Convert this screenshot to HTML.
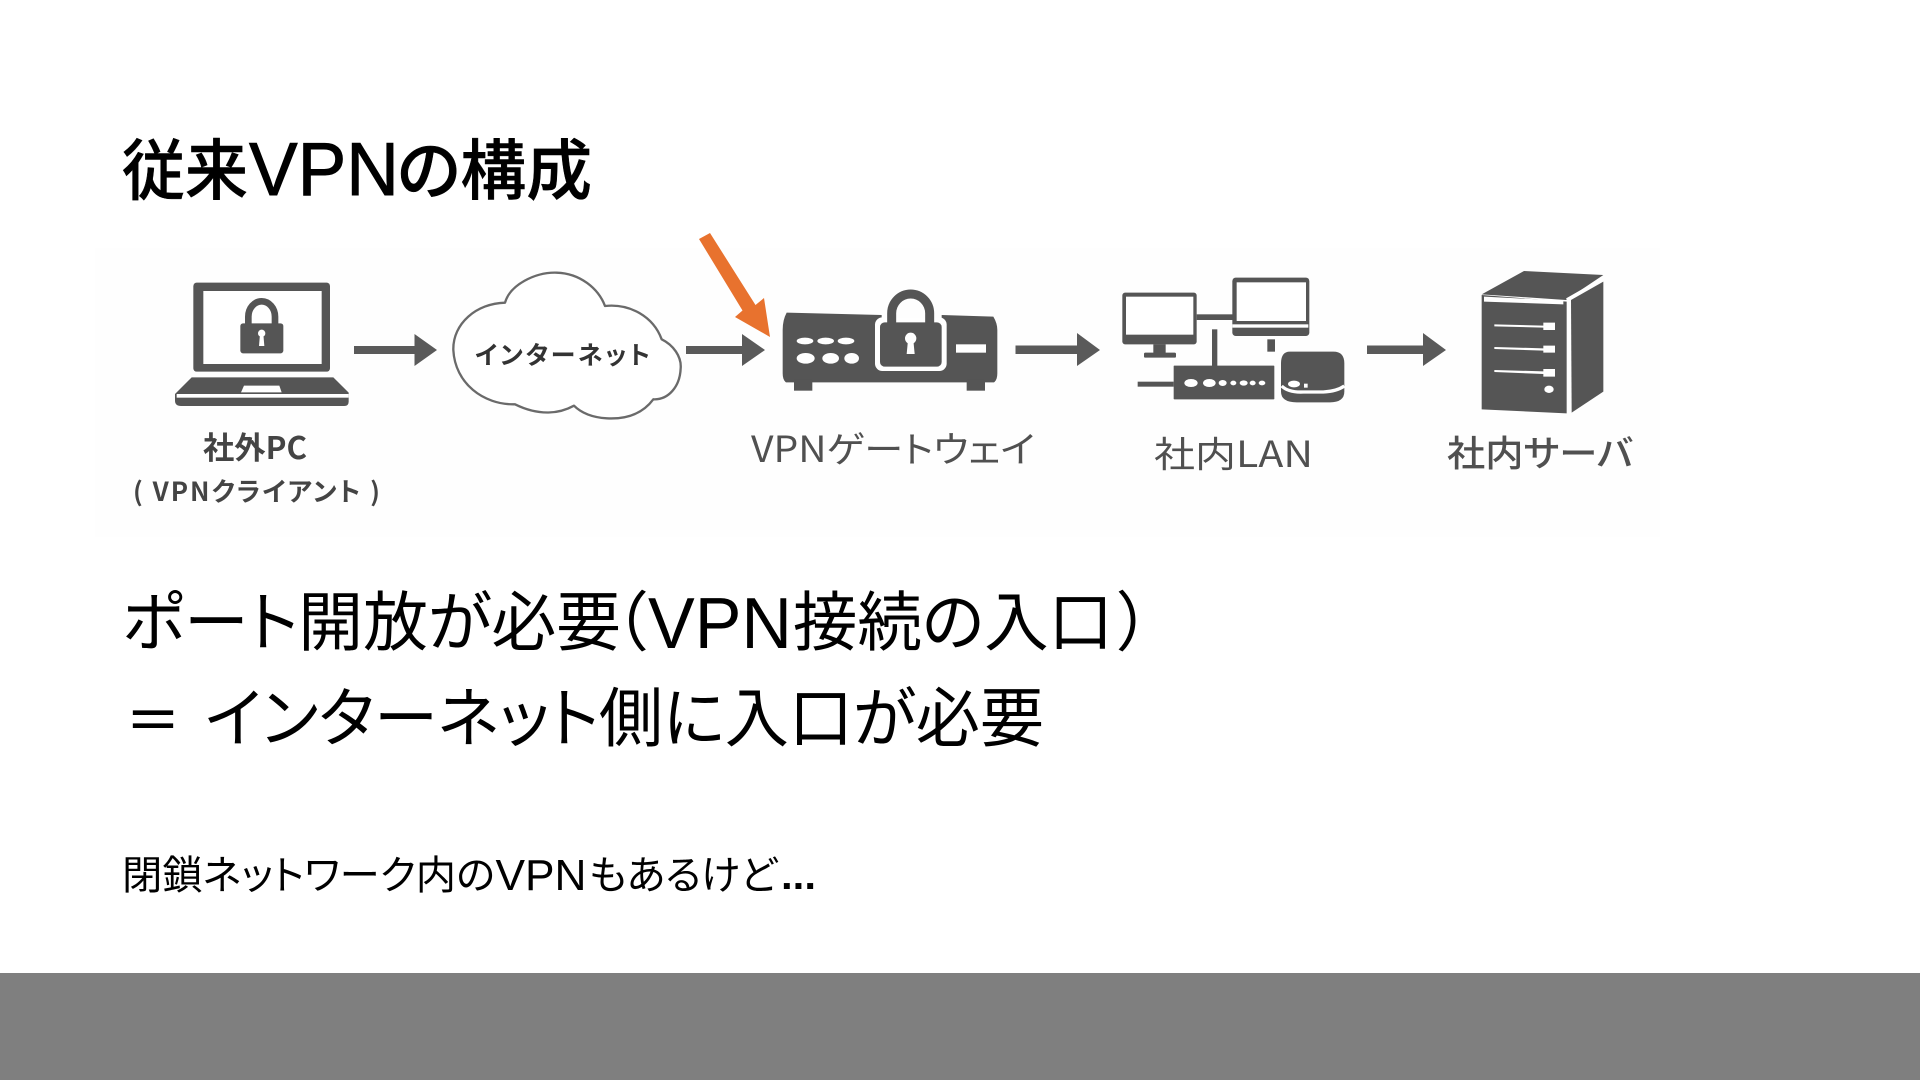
<!DOCTYPE html>
<html lang="ja"><head><meta charset="utf-8"><title>従来VPNの構成</title>
<style>
html,body{margin:0;padding:0;background:#fff;width:1920px;height:1080px;overflow:hidden}
svg{display:block}
text{font-family:"Liberation Sans","Noto Sans CJK JP",sans-serif}
.lib{font-family:"Liberation Sans","Noto Sans CJK JP",sans-serif;font-feature-settings:"palt"}
.jp{font-family:"Noto Sans CJK JP","Liberation Sans",sans-serif;font-feature-settings:"palt"}
</style></head><body>
<svg width="1920" height="1080" viewBox="0 0 1920 1080" xmlns="http://www.w3.org/2000/svg">
<rect width="1920" height="1080" fill="#fff"/>
<rect x="95" y="248" width="1565" height="289" fill="#fefefe"/>
<rect x="0" y="973" width="1920" height="107" fill="#7f7f7f"/>

<!-- slide text -->
<text class="lib" x="122" y="194" font-size="66" font-weight="500" fill="#000" stroke="#000" stroke-width=".5" textLength="126" lengthAdjust="spacingAndGlyphs">従来</text>
<text class="lib" x="249" y="195" font-size="75" font-weight="400" fill="#000" stroke="#000" stroke-width=".9" textLength="150" lengthAdjust="spacingAndGlyphs">VPN</text>
<text class="lib" x="397" y="194" font-size="66" font-weight="500" fill="#000" stroke="#000" stroke-width=".5" textLength="195" lengthAdjust="spacingAndGlyphs">の構成</text>

<text class="lib" x="122" y="645" font-size="65" font-weight="400" fill="#000" textLength="499" lengthAdjust="spacingAndGlyphs">ポート開放が必要</text>
<text class="lib" x="614" y="645" font-size="65" font-weight="400" fill="#000">（</text>
<text class="lib" x="648" y="648" font-size="72" font-weight="400" fill="#000" textLength="144" lengthAdjust="spacingAndGlyphs">VPN</text>
<text class="lib" x="793" y="645" font-size="65" font-weight="400" fill="#000" textLength="320" lengthAdjust="spacingAndGlyphs">接続の入口</text>
<text class="lib" x="1118" y="645" font-size="65" font-weight="400" fill="#000">）</text>

<text class="lib" x="125" y="741" font-size="56" font-weight="500" fill="#000">＝</text>
<text class="lib" x="205" y="741" font-size="65" font-weight="400" fill="#000" textLength="839" lengthAdjust="spacingAndGlyphs">インターネット側に入口が必要</text>

<text class="lib" x="122" y="889" font-size="40" font-weight="400" fill="#000" textLength="373" lengthAdjust="spacingAndGlyphs">閉鎖ネットワーク内の</text>
<text class="lib" x="495.5" y="890" font-size="44" font-weight="400" fill="#000" textLength="91" lengthAdjust="spacingAndGlyphs">VPN</text>
<text class="lib" x="589" y="889" font-size="40" font-weight="400" fill="#000" textLength="188" lengthAdjust="spacingAndGlyphs">もあるけど</text>
<text x="781" y="889" font-size="40" font-weight="700" fill="#000" textLength="35" lengthAdjust="spacingAndGlyphs">...</text>

<!-- laptop -->
<g transform="translate(170,270) scale(.33333)">
<rect x="70" y="38" width="410" height="267" rx="10" fill="#555"/>
<rect x="100" y="63" width="355" height="219" fill="#fff"/>
<rect x="211" y="160" width="129" height="90" rx="8" fill="#555"/>
<path d="M235,165V140a40,46 0 0 1 80,0V165" fill="none" stroke="#555" stroke-width="20"/>
<circle cx="275" cy="190" r="11" fill="#fff"/>
<path d="M270,192H280L283,228H267Z" fill="#fff"/>
<path d="M65,322H490L536,368V395Q536,408 523,408H33Q15,408 15,392V372Z" fill="#555"/>
<rect x="20" y="372" width="516" height="11" fill="#fff"/>
<path d="M222,347H328L335,367H213Z" fill="#fff"/>
</g>

<!-- arrows -->
<g fill="#5a5a5a">
<path d="M354,346H414.5V334L437,350L414.5,366V354H354Z"/>
<path d="M686,346H742V334L765,350L742,366V354H686Z"/>
<path d="M1015.5,345.5H1077V333L1100,350L1077,366V354H1015.5Z"/>
<path d="M1367,345.5H1423V333L1446,350L1423,366V354H1367Z"/>
</g>

<!-- cloud -->
<g transform="translate(440,260) scale(.33333)">
<path d="M195,128C210,75 285,36 350,38C420,40 475,85 495,138C570,130 640,170 665,238C700,255 725,290 722,325C720,380 685,420 640,418C605,465 555,478 500,475C455,472 425,460 402,437C360,460 300,470 225,433C130,435 45,370 40,270C38,190 110,130 195,128Z" fill="#fff" stroke="#6a6a6a" stroke-width="7" stroke-linejoin="round"/>
</g>
<text class="jp" x="475" y="364" font-size="25" font-weight="700" fill="#333" textLength="175" lengthAdjust="spacing">インターネット</text>

<!-- orange arrow -->
<path d="M699,239L710,233L755.5,305L764,298L770,337L735,317L742.5,310.5Z" fill="#e8722e"/>

<!-- gateway -->
<g transform="translate(770,280) scale(.33333)">
<path d="M50,98L335,105V125H515V105L670,110Q682,130 682,150V280Q682,300 672,307H48Q38,300 38,280V150Q38,120 50,98Z" fill="#555"/>
<rect x="72" y="300" width="55" height="32" fill="#555"/>
<rect x="590" y="300" width="55" height="32" fill="#555"/>
<rect x="315" y="112" width="215" height="161" rx="22" fill="#fff"/>
<rect x="330" y="127" width="185" height="133" rx="14" fill="#555"/>
<path d="M365,130V100a57,58 0 0 1 114,0V130" fill="none" stroke="#555" stroke-width="27"/>
<circle cx="422" cy="175" r="17" fill="#fff"/>
<path d="M414,180H430L434,222H410Z" fill="#fff"/>
<g fill="#fff">
<ellipse cx="105" cy="183" rx="25" ry="10"/><ellipse cx="167" cy="183" rx="25" ry="10"/><ellipse cx="228" cy="183" rx="25" ry="10"/>
<ellipse cx="107" cy="235" rx="27" ry="16"/><ellipse cx="182" cy="235" rx="25" ry="16"/><ellipse cx="245" cy="235" rx="22" ry="16"/>
<rect x="558" y="193" width="90" height="25"/>
</g>
</g>

<!-- LAN -->
<g transform="translate(1100,260) scale(.33333)" fill="#555">
<rect x="67" y="98" width="223" height="155" rx="8"/>
<rect x="78" y="110" width="202" height="114" fill="#fff"/>
<rect x="160" y="253" width="37" height="28"/>
<rect x="132" y="278" width="96" height="15" rx="4"/>
<rect x="290" y="163" width="108" height="17"/>
<rect x="397" y="53" width="231" height="175" rx="10"/>
<rect x="410" y="67" width="208" height="116" fill="#fff"/>
<rect x="397" y="193" width="228" height="10" fill="#fff"/>
<rect x="502" y="238" width="23" height="37"/>
<rect x="336" y="208" width="16" height="110"/>
<rect x="221" y="317" width="302" height="101" rx="2"/>
<rect x="113" y="365" width="108" height="15"/>
<g fill="#fff">
<ellipse cx="273" cy="369" rx="20" ry="12"/><ellipse cx="328" cy="369" rx="19" ry="12"/><ellipse cx="368" cy="369" rx="12" ry="9"/><ellipse cx="400" cy="369" rx="9" ry="7"/><ellipse cx="431" cy="369" rx="12" ry="8"/><ellipse cx="458" cy="369" rx="9" ry="7"/><ellipse cx="486" cy="369" rx="10" ry="7"/>
</g>
<path d="M570,275H700Q733,275 733,310V395Q733,427 690,427H590Q543,427 543,395V310Q543,275 570,275Z"/>
<path d="M545,378Q565,398 610,396H670Q710,394 733,378" fill="none" stroke="#fff" stroke-width="10"/>
<ellipse cx="582" cy="372" rx="18" ry="10" fill="#fff"/>
<rect x="612" y="371" width="11" height="12" fill="#fff"/>
</g>

<!-- server -->
<g transform="translate(1460,260) scale(.33333)">
<path d="M65,103L192,33L430,45L318,120Z" fill="#555"/>
<path d="M65,105L320,125V460L65,448Z" fill="#555"/>
<path d="M333,120L430,65V395L335,458Z" fill="#555"/>
<path d="M320,118L425,58" stroke="#fff" stroke-width="7" fill="none"/>
<path d="M72,110L310,122V133L72,125Z" fill="#fff"/>
<g fill="#fff">
<path d="M103,193L250,197V188H285V210H250V203L103,199Z"/>
<path d="M103,261L250,265V257H285V278H250V272L103,267Z"/>
<path d="M103,330L250,334V327H285V350H250V342L103,336Z"/>
<ellipse cx="267" cy="388" rx="14" ry="11"/>
</g>
</g>

<!-- labels -->
<text class="jp" x="203" y="459" font-size="31" font-weight="700" fill="#444" textLength="104" lengthAdjust="spacingAndGlyphs">社外PC</text>
<text class="jp" x="133" y="501" font-size="26" font-weight="700" fill="#444" textLength="247" lengthAdjust="spacing">( VPNクライアント )</text>
<text class="jp" x="751" y="462" font-size="36" fill="#505050" textLength="284" lengthAdjust="spacingAndGlyphs">VPNゲートウェイ</text>
<text class="jp" x="1154" y="467" font-size="36" fill="#505050" textLength="159" lengthAdjust="spacingAndGlyphs">社内LAN</text>
<text class="jp" x="1447" y="466" font-size="36" font-weight="500" fill="#505050" textLength="186" lengthAdjust="spacingAndGlyphs">社内サーバ</text>
</svg>
</body></html>
